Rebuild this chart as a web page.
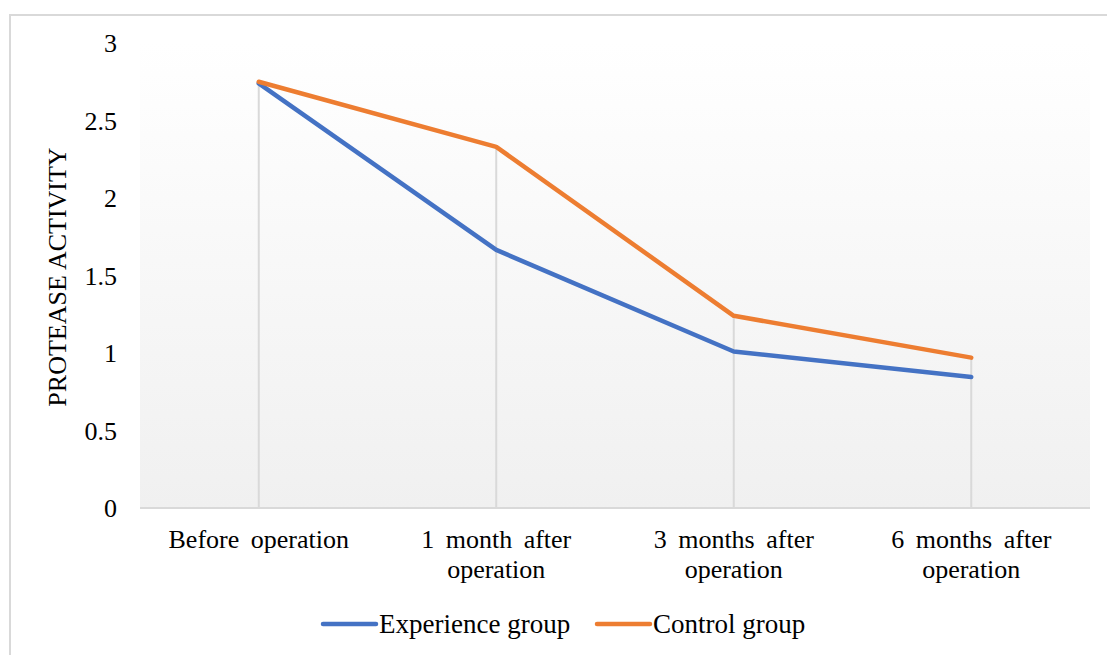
<!DOCTYPE html>
<html>
<head>
<meta charset="utf-8">
<script src="https://cdn.jsdelivr.net/npm/d3@7"></script>
<style>
  body { margin: 0; background: #fff; }
  svg { display: block; font-family: 'Liberation Serif', 'Times New Roman', serif; }
</style>
</head>
<body>
<div id="chart"></div>
<script>
const categories = [
  ['Before operation'],
  ['1 month after', 'operation'],
  ['3 months after', 'operation'],
  ['6 months after', 'operation']
];
const experienceGroup = [2.74, 1.665, 1.01, 0.845];
const controlGroup = [2.75, 2.33, 1.24, 0.97];
const yTicks = [0, 0.5, 1, 1.5, 2, 2.5, 3];
const seriesNames = ['Experience group', 'Control group'];
const colors = ['#4472C4', '#ED7D31'];

const width = 1107;
const height = 655;
const margin = { top: 43, right: 17, bottom: 147, left: 140 };
const fontSize = 26;

const svg = d3
  .select('#chart')
  .append('svg')
  .attr('width', width)
  .attr('height', height);

// chart frame
svg
  .append('rect')
  .attr('x', 10)
  .attr('y', 15)
  .attr('width', width + 20)
  .attr('height', height + 20)
  .attr('fill', '#fff')
  .attr('stroke', '#d9d9d9')
  .attr('stroke-width', 2);

const x = d3
  .scaleBand()
  .domain(d3.range(categories.length))
  .range([margin.left, width - margin.right]);

const y = d3
  .scaleLinear()
  .domain([0, 3])
  .range([height - margin.bottom, margin.top]);

// plot area gradient
const defs = svg.append('defs');
const grad = defs
  .append('linearGradient')
  .attr('id', 'plotGrad')
  .attr('x1', 0)
  .attr('y1', 0)
  .attr('x2', 0)
  .attr('y2', 1);
grad.append('stop').attr('offset', '0%').attr('stop-color', '#ffffff');
grad.append('stop').attr('offset', '100%').attr('stop-color', '#f0f0f0');

svg
  .append('rect')
  .attr('x', x.range()[0])
  .attr('y', y(3))
  .attr('width', x.range()[1] - x.range()[0])
  .attr('height', y(0) - y(3))
  .attr('fill', 'url(#plotGrad)');

// drop lines
svg
  .append('g')
  .selectAll('line')
  .data(categories.map((c, i) => Math.max(experienceGroup[i], controlGroup[i])))
  .join('line')
  .attr('x1', (d, i) => x(i) + x.bandwidth() / 2)
  .attr('x2', (d, i) => x(i) + x.bandwidth() / 2)
  .attr('y1', (d) => y(d))
  .attr('y2', y(0))
  .attr('stroke', '#d9d9d9')
  .attr('stroke-width', 2);

// x axis line
svg
  .append('line')
  .attr('x1', x.range()[0])
  .attr('x2', x.range()[1])
  .attr('y1', y(0))
  .attr('y2', y(0))
  .attr('stroke', '#d9d9d9')
  .attr('stroke-width', 2);

// y tick labels
svg
  .append('g')
  .selectAll('text')
  .data(yTicks)
  .join('text')
  .attr('x', 117)
  .attr('y', (d) => y(d))
  .attr('dy', '0.35em')
  .attr('text-anchor', 'end')
  .attr('font-size', fontSize)
  .attr('fill', '#000')
  .text((d) => d);

// x category labels
const xLabels = svg
  .append('g')
  .selectAll('text')
  .data(categories)
  .join('text')
  .attr('text-anchor', 'middle')
  .attr('font-size', fontSize)
  .attr('fill', '#000')
  .attr('word-spacing', 5)
  .attr('x', (d, i) => x(i) + x.bandwidth() / 2)
  .attr('y', 548);

xLabels
  .selectAll('tspan')
  .data((d) => d)
  .join('tspan')
  .attr('x', function () {
    return this.parentNode.getAttribute('x');
  })
  .attr('dy', (d, i) => (i === 0 ? 0 : 30))
  .text((d) => d);

// y axis title
svg
  .append('text')
  .attr('transform', `translate(${66},${277}) rotate(-90)`)
  .attr('text-anchor', 'middle')
  .attr('font-size', fontSize)
  .attr('fill', '#000')
  .text('PROTEASE ACTIVITY');

// series lines
const line = d3
  .line()
  .x((d, i) => x(i) + x.bandwidth() / 2)
  .y((d) => y(d));

svg
  .append('g')
  .selectAll('path')
  .data([experienceGroup, controlGroup])
  .join('path')
  .attr('d', line)
  .attr('fill', 'none')
  .attr('stroke', (d, i) => colors[i])
  .attr('stroke-width', 4.5)
  .attr('stroke-linejoin', 'round')
  .attr('stroke-linecap', 'round');

// legend
const legendX = [323, 597];
const legend = svg
  .append('g')
  .selectAll('g')
  .data(seriesNames)
  .join('g')
  .attr('transform', (d, i) => `translate(${legendX[i]},${624})`);

legend
  .append('line')
  .attr('x1', 0)
  .attr('x2', 53)
  .attr('stroke', (d, i) => colors[i])
  .attr('stroke-width', 4.5)
  .attr('stroke-linecap', 'round');

legend
  .append('text')
  .attr('x', 56)
  .attr('dy', '0.35em')
  .attr('font-size', fontSize + 1)
  .attr('fill', '#000')
  .text((d) => d);
</script>
</body>
</html>
